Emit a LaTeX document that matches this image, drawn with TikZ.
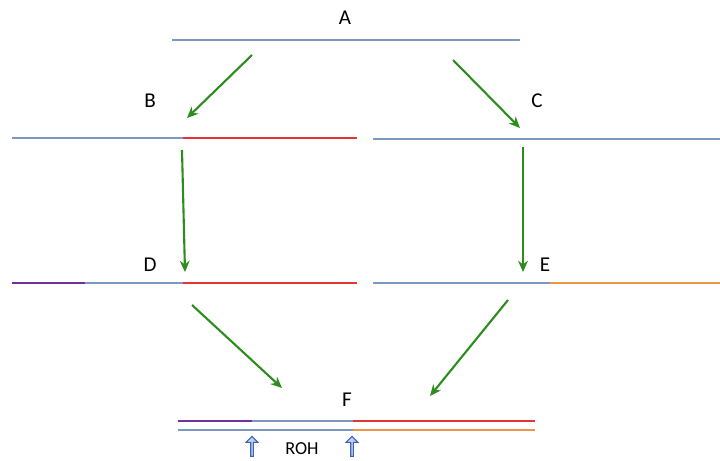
\documentclass[tikz,border=0pt]{standalone}
\usepackage{fontspec}
\setmainfont{Carlito}
\usetikzlibrary{calc}
\usetikzlibrary{arrows.meta}
\usetikzlibrary{shapes.arrows}
\definecolor{bcol}{RGB}{122,152,192}
\definecolor{rcol}{RGB}{228,52,52}
\definecolor{pcol}{RGB}{112,48,160}
\definecolor{ocol}{RGB}{238,150,72}
\definecolor{gcol}{RGB}{45,140,30}
\definecolor{ucol}{RGB}{60,100,180}
\definecolor{ufill}{RGB}{160,190,240}

\begin{document}
\begin{tikzpicture}[x={(0.025cm,0)}, y={(0,-0.025cm)}]
\tikzstyle{seg}=[line width=1.9pt]
\tikzstyle{thin}=[line width=1.5pt]
\tikzstyle{arrow}=[line width=1.5pt, gcol, -{Stealth[length=8pt,width=7pt]}]
\tikzstyle{lab}=[font=\fontsize{15}{17}\selectfont, inner sep=0pt]
\tikzstyle{uparr}=[single arrow, draw=ucol, top color=ufill!50, bottom color=ufill, shading angle=90,
  line width=0.8pt, rotate=90,
  minimum height=0.5cm, minimum width=0.3cm, single arrow head extend=0.05cm, inner sep=0pt]

\useasboundingbox (0,0) rectangle (720,460);

% labels
\node[lab] (A) at (345,18) {A};
\node[lab] (B) at (150,101) {B};
\node[lab] (C) at (537,101) {C};
\node[lab] (D) at (150,265) {D};
\node[lab] (E) at (545,265) {E};
\node[lab] (F) at (347,400) {F};

% sequence A
\draw[seg, bcol] (172,40) -- (520,40);

% sequence B and C
\draw[seg, bcol] (12,138) -- (183,138);
\draw[seg, rcol] (183,138) -- (357,138);
\draw[seg, bcol] (373,139) -- (720,139);

% sequence D and E
\draw[seg, pcol] (12,283) -- (85,283);
\draw[seg, bcol] (85,283) -- (183,283);
\draw[seg, rcol] (183,283) -- (357,283);
\draw[seg, bcol] (373,283) -- (550,283);
\draw[seg, ocol] (550,283) -- (720,283);

% sequence F, two copies
\draw[thin, pcol] (178,421) -- (252,421);
\draw[thin, bcol] (252,421) -- (353,421);
\draw[thin, rcol] (353,421) -- (535,421);
\draw[thin, bcol] (178,430) -- (353,430);
\draw[thin, ocol] (353,430) -- (535,430);

% arrows
\coordinate (ab0) at (252,55);  \coordinate (ab1) at (187,118);
\coordinate (ac0) at (453,60);  \coordinate (ac1) at (520,128);
\coordinate (bd0) at (182,150); \coordinate (bd1) at (185,272);
\coordinate (ce0) at (523,147); \coordinate (ce1) at (523,272);
\coordinate (df0) at (192,305); \coordinate (df1) at (282,388);
\coordinate (ef0) at (508,300); \coordinate (ef1) at (430,396);
\draw[arrow] (ab0) -- (ab1);
\draw[arrow] (ac0) -- (ac1);
\draw[arrow] (bd0) -- (bd1);
\draw[arrow] (ce0) -- (ce1);
\draw[arrow] (df0) -- (df1);
\draw[arrow] (ef0) -- (ef1);

% ROH boundaries
\node[uparr] (r1) at (252,447) {};
\node[uparr] (r2) at (352,447) {};
\node[font=\fontsize{13}{15}\selectfont, inner sep=0pt] (roh) at (302,449) {ROH};
\end{tikzpicture}
\end{document}
